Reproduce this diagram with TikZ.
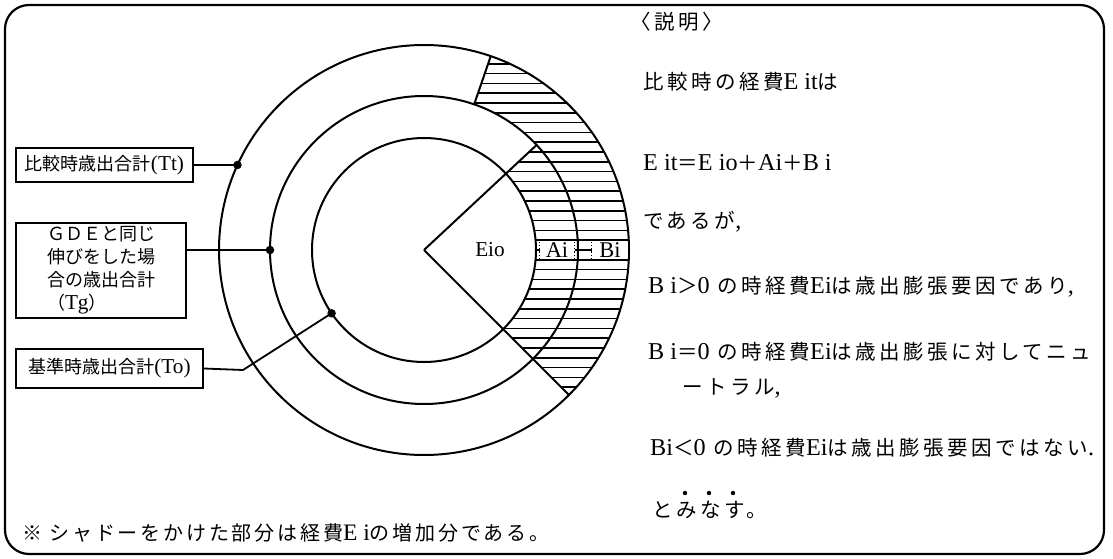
\documentclass[tikz,border=0pt]{standalone}
\usepackage{fontspec}
\setmainfont{Noto Sans CJK JP}
\newfontfamily\jpw{Noto Sans CJK JP}[LetterSpace=17]
\newfontfamily\jpn{Noto Sans CJK JP}[LetterSpace=14]
\newfontfamily\lat{Liberation Serif}[Scale=1.18]
\newcommand\LL[1]{{\lat #1}}
\tikzset{
  ring/.style={line width=2pt},
  hatch/.style={line width=1.7pt},
  conn/.style={line width=1.8pt},
  lbl/.style={draw, line width=1.6pt, inner sep=0pt, font=\fontsize{18}{23}\selectfont},
  expl/.style={anchor=west, inner sep=0pt, font=\jpw\fontsize{20.5}{23}\selectfont},
  notes/.style={anchor=west, inner sep=0pt, font=\jpn\fontsize{20}{23}\selectfont},
  dotc/.style={circle, fill, inner sep=0pt, minimum size=8.5pt},
  seg/.style={fill=white, inner sep=0pt, minimum height=16pt, font=\lat\fontsize{19}{19}\selectfont},
}
\begin{document}
\begin{tikzpicture}[x=1pt,y=1pt]
\useasboundingbox (0,0) rectangle (1113,558);
\draw[line width=2.2pt, rounded corners=24pt] (5,4) rectangle (1104,553);
\begin{scope}[shift={(424,308)}]
  \begin{scope}
    \clip (-45:112) arc[start angle=-45,end angle=43,radius=112] -- (43:154)
      arc[start angle=43,end angle=71,radius=154] -- (71:205)
      arc[start angle=71,end angle=-45,radius=205] -- cycle;
    \foreach \k in {-22,...,22} \draw[hatch] (0,9.8*\k) -- (215,9.8*\k);
  \end{scope}
  \draw[ring] (0,0) circle[radius=112];
  \draw[ring] (0,0) circle[radius=154];
  \draw[ring] (0,0) circle[radius=205];
  \draw[ring] (0,0) -- (-45:205);
  \draw[ring] (0,0) -- (43:154);
  \draw[ring] (71:154) -- (71:205);
  \node[font=\lat\fontsize{18}{18}\selectfont] (eio) at (66,0) {Eio};
  \node[seg, minimum width=35pt] (ai) at (133,0) {Ai};
  \node[seg, minimum width=36pt] (bi) at (186,0) {Bi};
  \draw[dotted, line width=1.2pt] (ai.north west) -- (ai.south west);
  \draw[dotted, line width=1.2pt] (ai.north east) -- (ai.south east);
  \draw[dotted, line width=1.2pt] (bi.north west) -- (bi.south west);
  \draw[dotted, line width=1.2pt] (bi.north east) -- (bi.south east);
  \node[dotc] (dtt) at (155.5:205) {};
  \node[dotc] (dtg) at (180:154) {};
  \node[dotc] (dto) at (214.4:112) {};
\end{scope}
\node[lbl, minimum width=177pt, minimum height=34pt] (tt) at (104.5,393) {比較時歳出合計\LL{(Tt)}};
\node[lbl, minimum width=170pt, minimum height=95pt, align=left] (tg) at (101,287.5) {ＧＤＥと同じ\\伸びをした場\\合の歳出合計\\（\LL{Tg}）};
\node[lbl, minimum width=187pt, minimum height=39pt] (to) at (109.5,189.5) {基準時歳出合計\LL{(To)}};
\coordinate (tobend) at (243,188);
\draw[conn] (tt.east) -- (dtt.center);
\draw[conn] (tg.east |- dtg) -- (dtg.center);
\draw[conn] (to.east) -- (tobend) -- (dto.center);
\node[expl] (ex0) at (630,536) {〈説明〉};
\node[expl] (ex1) at (643,476) {比較時の経費\LL{E it}は};
\node[expl] (ex2) at (643,395) {\LL{E it}＝\LL{E io}＋\LL{Ai}＋\LL{B i}};
\node[expl] (ex3) at (643,336) {であるが\LL{,}};
\node[expl] (ex4) at (648,271) {\LL{B i}＞\LL{0} の時経費\LL{Ei}は歳出膨張要因であり\LL{,}};
\node[expl] (ex5) at (648,206) {\LL{B i}＝\LL{0} の時経費\LL{Ei}は歳出膨張に対してニュ};
\node[expl] (ex6) at (682,170) {ートラル\LL{,}};
\node[expl] (ex7) at (650,110) {\LL{Bi}＜\LL{0} の時経費\LL{Ei}は歳出膨張要因ではない\LL{.}};
\node[expl] (ex8) at (652,48) {とみなす。};
\fill ([xshift=33pt,yshift=17pt]ex8.west) circle[radius=2.2];
\fill ([xshift=57pt,yshift=17pt]ex8.west) circle[radius=2.2];
\fill ([xshift=81pt,yshift=17pt]ex8.west) circle[radius=2.2];
\node[notes] (note) at (22,25) {※ シャドーをかけた部分は経費\LL{E i}の増加分である。};
\end{tikzpicture}
\end{document}
